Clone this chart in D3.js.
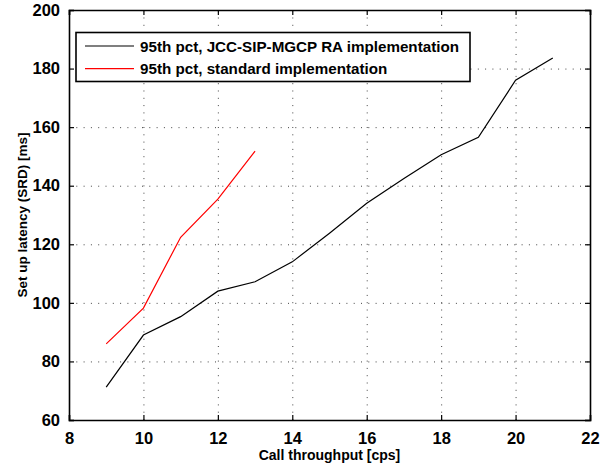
<!DOCTYPE html>
<html>
<head>
<meta charset="utf-8">
<script src="https://cdn.jsdelivr.net/npm/d3@7"></script>
<style>
  body { margin: 0; background: #fff; }
  text { font-family: "Liberation Sans", Arial, Helvetica, sans-serif; font-weight: bold; }
</style>
</head>
<body>
<script>
// data
const throughputRA = [9, 10, 11, 12, 13, 14, 15, 16, 17, 18, 19, 20, 21];
const latencyRA = [71.2, 89.0, 95.3, 104.0, 107.2, 114.0, 123.8, 134.0, 142.5, 150.6, 156.5, 176.0, 183.6];
const throughputStd = [9, 10, 11, 12, 13];
const latencyStd = [86.0, 98.2, 122.4, 135.4, 151.8];
const xTicks = [8, 10, 12, 14, 16, 18, 20, 22];
const yTicks = [60, 80, 100, 120, 140, 160, 180, 200];
const seriesNames = ["95th pct, JCC-SIP-MGCP RA implementation", "95th pct, standard implementation"];
const seriesColors = ["#000000", "#ff0000"];

const W = 608, H = 465;
const m = { left: 69, right: 18, top: 10, bottom: 45 };

const svg = d3.select("body").append("svg")
    .attr("width", W)
    .attr("height", H);

const x = d3.scaleLinear().domain([8, 22]).range([m.left, W - m.right]);
const y = d3.scaleLinear().domain([60, 200]).range([H - m.bottom, m.top]);

// grid
const grid = svg.append("g").attr("stroke", "#444").attr("stroke-width", 1)
    .attr("stroke-dasharray", "1,6.3");
grid.selectAll(".gx").data(xTicks.slice(1, -1)).enter().append("line")
    .attr("x1", d => x(d) + 0.5).attr("x2", d => x(d) + 0.5)
    .attr("y1", y(60)).attr("y2", y(200));
grid.selectAll(".gy").data(yTicks.slice(1, -1)).enter().append("line")
    .attr("y1", d => y(d) + 0.5).attr("y2", d => y(d) + 0.5)
    .attr("x1", x(8)).attr("x2", x(22));

// axes, ticks inward on all four sides
svg.append("g").attr("transform", `translate(0,${y(60)})`)
    .call(d3.axisBottom(x).tickValues(xTicks).tickSize(-5).tickPadding(12));
svg.append("g").attr("transform", `translate(0,${y(200)})`)
    .call(d3.axisTop(x).tickValues(xTicks).tickSize(-5).tickFormat(""));
svg.append("g").attr("transform", `translate(${x(8)},0)`)
    .call(d3.axisLeft(y).tickValues(yTicks).tickSize(-5).tickPadding(9));
svg.append("g").attr("transform", `translate(${x(22)},0)`)
    .call(d3.axisRight(y).tickValues(yTicks).tickSize(-5).tickFormat(""));

svg.selectAll(".domain").attr("stroke", "#000").attr("stroke-width", 1.6);
svg.selectAll(".tick line").attr("stroke", "#000").attr("stroke-width", 1.2);
svg.selectAll(".tick text").attr("fill", "#000").style("font-size", "16.5px");

// lines
const line = d3.line().x(d => x(d[0])).y(d => y(d[1]));
const series = [
    d3.zip(throughputRA, latencyRA),
    d3.zip(throughputStd, latencyStd)
];
svg.selectAll(".series").data(series).enter().append("path")
    .attr("d", line)
    .attr("fill", "none")
    .attr("stroke", (d, i) => seriesColors[i])
    .attr("stroke-width", 1.2);

// legend
const lg = svg.append("g");
lg.append("rect")
    .attr("x", 76).attr("y", 32.5).attr("width", 394).attr("height", 49)
    .attr("fill", "#fff").attr("stroke", "#000").attr("stroke-width", 1.6);
seriesNames.forEach((name, i) => {
    const ly = 46 + i * 22.7;
    lg.append("line").attr("x1", 85).attr("x2", 134).attr("y1", ly).attr("y2", ly)
        .attr("stroke", seriesColors[i]).attr("stroke-width", 1.2);
    lg.append("text").attr("x", 140).attr("y", ly + 5.5)
        .style("font-size", "15.2px").text(name);
});

// axis labels
svg.append("text")
    .attr("x", (x(8) + x(22)) / 2).attr("y", 460)
    .attr("text-anchor", "middle").style("font-size", "14px")
    .text("Call throughput [cps]");
svg.append("text")
    .attr("transform", `translate(27,${(y(60) + y(200)) / 2}) rotate(-90)`)
    .attr("text-anchor", "middle").style("font-size", "13.5px")
    .text("Set up latency (SRD) [ms]");
</script>
</body>
</html>
